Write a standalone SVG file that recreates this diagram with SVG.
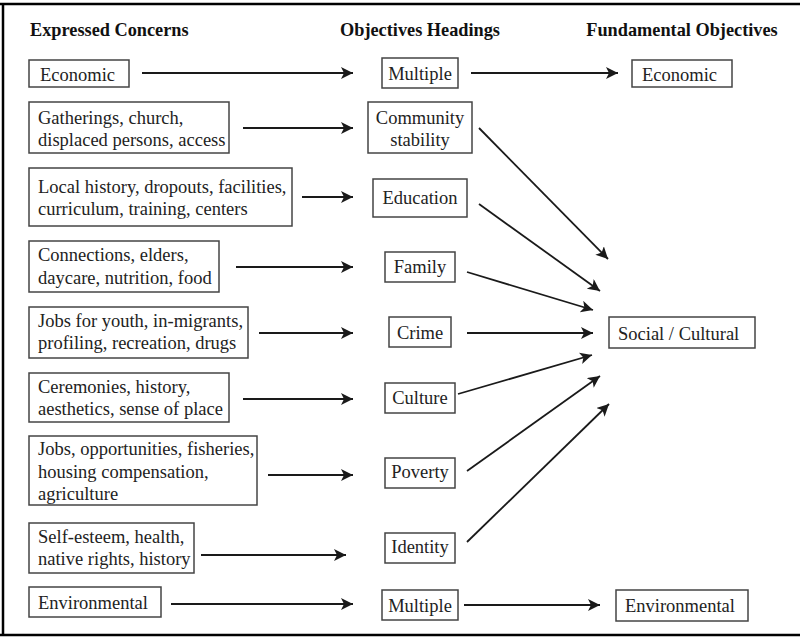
<svg xmlns="http://www.w3.org/2000/svg" width="800" height="638" viewBox="0 0 800 638">
<defs>
<marker id="ah" markerUnits="userSpaceOnUse" markerWidth="14" markerHeight="14" refX="12" refY="6" orient="auto">
<path d="M0,0 L12,6 L0,12 L3,6 z" fill="#1a1a1a"/>
</marker>
<style>
.bx{fill:#fff;stroke:#444;stroke-width:1.5}
.t{font-family:"Liberation Serif","Times New Roman",serif;font-size:18.5px;fill:#222}
.m{text-anchor:middle}
.h{font-family:"Liberation Serif","Times New Roman",serif;font-size:18.3px;font-weight:bold;fill:#111}
.c{stroke:#1a1a1a;stroke-width:1.8;fill:none;marker-end:url(#ah)}
</style>
</defs>
<rect x="0" y="0" width="800" height="638" fill="#fff"/>
<g id="frame" stroke="#000" stroke-width="2.5" fill="none">
<line x1="0" y1="4" x2="800" y2="4"/>
<line x1="3" y1="4" x2="3" y2="635"/>
<line x1="0" y1="635" x2="800" y2="635"/>
</g>
<g id="headers">
<text class="h" x="30" y="36">Expressed Concerns</text>
<text class="h m" x="420" y="36">Objectives Headings</text>
<text class="h m" x="682" y="36">Fundamental Objectives</text>
</g>
<g id="c-economic"><rect class="bx" x="29" y="60" width="100" height="27"/><text class="t" x="40" y="81">Economic</text></g>
<g id="c-gatherings"><rect class="bx" x="29" y="102" width="200" height="51"/><text class="t" x="38" y="124">Gatherings, church,</text><text class="t" x="38" y="146">displaced persons, access</text></g>
<g id="c-local"><rect class="bx" x="29" y="168" width="263" height="58"/><text class="t" x="38" y="193">Local history, dropouts, facilities,</text><text class="t" x="38" y="215">curriculum, training, centers</text></g>
<g id="c-connections"><rect class="bx" x="29" y="241" width="190" height="51"/><text class="t" x="38" y="261">Connections, elders,</text><text class="t" x="38" y="284">daycare, nutrition, food</text></g>
<g id="c-jobsyouth"><rect class="bx" x="29" y="307" width="219" height="51"/><text class="t" x="38" y="327">Jobs for youth, in-migrants,</text><text class="t" x="38" y="349">profiling, recreation, drugs</text></g>
<g id="c-ceremonies"><rect class="bx" x="29" y="373" width="200" height="49"/><text class="t" x="38" y="393">Ceremonies, history,</text><text class="t" x="38" y="415">aesthetics, sense of place</text></g>
<g id="c-jobsopp"><rect class="bx" x="29" y="436" width="228" height="69"/><text class="t" x="38" y="455">Jobs, opportunities, fisheries,</text><text class="t" x="38" y="478">housing compensation,</text><text class="t" x="38" y="500">agriculture</text></g>
<g id="c-selfesteem"><rect class="bx" x="29" y="523" width="165" height="50"/><text class="t" x="38" y="543">Self-esteem, health,</text><text class="t" x="38" y="565">native rights, history</text></g>
<g id="c-environmental"><rect class="bx" x="29" y="587" width="132" height="30"/><text class="t" x="38" y="609">Environmental</text></g>
<g id="h-multiple1"><rect class="bx" x="382" y="58" width="76" height="30"/><text class="t m" x="420" y="80">Multiple</text></g>
<g id="h-community"><rect class="bx" x="368" y="102" width="104" height="51"/><text class="t m" x="420" y="124">Community</text><text class="t m" x="420" y="146">stability</text></g>
<g id="h-education"><rect class="bx" x="373" y="179" width="94" height="38"/><text class="t m" x="420" y="204">Education</text></g>
<g id="h-family"><rect class="bx" x="385" y="252" width="70" height="30"/><text class="t m" x="420" y="273">Family</text></g>
<g id="h-crime"><rect class="bx" x="389" y="317" width="62" height="30"/><text class="t m" x="420" y="339">Crime</text></g>
<g id="h-culture"><rect class="bx" x="385" y="383" width="70" height="30"/><text class="t m" x="420" y="404">Culture</text></g>
<g id="h-poverty"><rect class="bx" x="385" y="458" width="70" height="30"/><text class="t m" x="420" y="478">Poverty</text></g>
<g id="h-identity"><rect class="bx" x="385" y="533" width="70" height="30"/><text class="t m" x="420" y="553">Identity</text></g>
<g id="h-multiple2"><rect class="bx" x="382" y="590" width="76" height="30"/><text class="t m" x="420" y="612">Multiple</text></g>
<g id="f-economic"><rect class="bx" x="632" y="60" width="100" height="27"/><text class="t" x="642" y="81">Economic</text></g>
<g id="f-social"><rect class="bx" x="609" y="317" width="146" height="31"/><text class="t" x="618" y="340">Social / Cultural</text></g>
<g id="f-environmental"><rect class="bx" x="616" y="590" width="132" height="31"/><text class="t" x="625" y="612">Environmental</text></g>
<g id="connectors">
<line class="c" x1="142" y1="73" x2="353" y2="73"/>
<line class="c" x1="243" y1="128" x2="353" y2="128"/>
<line class="c" x1="302" y1="197" x2="353" y2="197"/>
<line class="c" x1="236" y1="267" x2="353" y2="267"/>
<line class="c" x1="259" y1="333" x2="353" y2="333"/>
<line class="c" x1="243" y1="399" x2="353" y2="399"/>
<line class="c" x1="268" y1="475" x2="353" y2="475"/>
<line class="c" x1="201" y1="555" x2="346" y2="555"/>
<line class="c" x1="171" y1="604" x2="353" y2="604"/>
<line class="c" x1="471" y1="73" x2="618" y2="73"/>
<line class="c" x1="464" y1="605" x2="600" y2="605"/>
<line class="c" x1="479" y1="128" x2="608" y2="259"/>
<line class="c" x1="479" y1="204" x2="600" y2="291"/>
<line class="c" x1="467" y1="272" x2="593" y2="310"/>
<line class="c" x1="467" y1="333" x2="593" y2="333"/>
<line class="c" x1="458" y1="394" x2="592" y2="355"/>
<line class="c" x1="467" y1="471" x2="600" y2="376"/>
<line class="c" x1="467" y1="542" x2="609" y2="404"/>
</g>
</svg>
